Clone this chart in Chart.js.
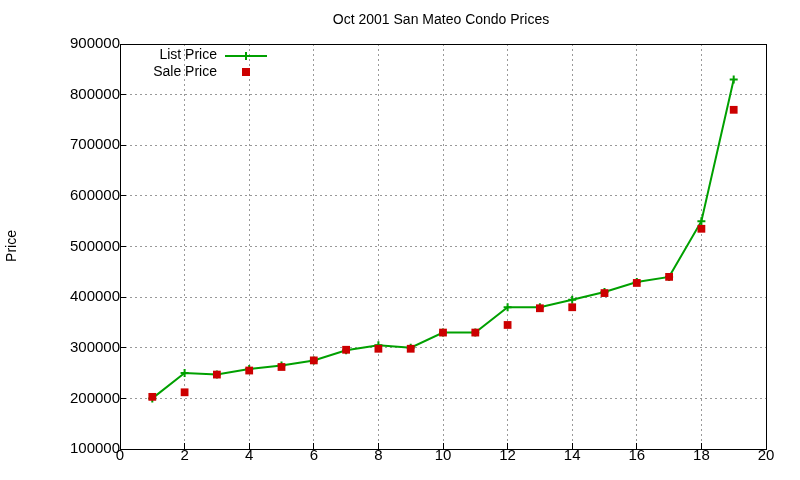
<!DOCTYPE html>
<html>
<head>
<script src="https://cdn.jsdelivr.net/npm/chart.js@4"></script>
<style>body{margin:0;background:#fff}#wrap{width:800px;height:480px}</style>
</head>
<body>
<div id="wrap"><canvas id="chart"></canvas></div>
<script>
const units = [1, 2, 3, 4, 5, 6, 7, 8, 9, 10, 11, 12, 13, 14, 15, 16, 17, 18, 19];
const listPrice = [200000, 250000, 247000, 258000, 265000, 275000, 295000, 305000, 300000, 330000,
  330000, 380000, 380000, 395000, 410000, 430000, 440000, 550000, 830000];
const salePrice = [203000, 212000, 247000, 255000, 262000, 275000, 296000, 298000, 298000, 330000,
  330000, 345000, 378000, 380000, 408000, 428000, 440000, 535000, 770000];

const fontFamily = "'Liberation Sans', Arial, sans-serif";

// gnuplot-like box, title, y label and legend
const gnuplotDecor = {
  id: "gnuplotDecor",
  afterDraw(chart) {
    const { ctx, chartArea: a } = chart;
    ctx.save();
    ctx.strokeStyle = "#000";
    ctx.lineWidth = 1;
    ctx.strokeRect(a.left + 0.5, a.top + 0.5, a.right - a.left, a.bottom - a.top);
    ctx.fillStyle = "#000";
    ctx.font = "14px " + fontFamily;
    ctx.textAlign = "center";
    ctx.textBaseline = "middle";
    ctx.fillText("Oct 2001 San Mateo Condo Prices", 441, 20);
    ctx.save();
    ctx.translate(12, 246);
    ctx.rotate(-Math.PI / 2);
    ctx.fillText("Price", 0, 0);
    ctx.restore();
    // legend
    ctx.textAlign = "right";
    ctx.fillText("List Price", 217, 55);
    ctx.fillText("Sale Price", 217, 72);
    ctx.strokeStyle = "#00a000";
    ctx.lineWidth = 2;
    ctx.beginPath();
    ctx.moveTo(225, 56); ctx.lineTo(267, 56);
    ctx.moveTo(246, 52); ctx.lineTo(246, 60);
    ctx.stroke();
    ctx.fillStyle = "#cc0000";
    ctx.fillRect(242, 68, 8, 8);
    ctx.restore();
  }
};

new Chart(document.getElementById("chart"), {
  type: "line",
  data: {
    datasets: [
      {
        label: "List Price",
        order: 2,
        data: units.map((u, i) => ({ x: u, y: listPrice[i] })),
        borderColor: "#00a000",
        borderWidth: 2,
        pointStyle: "cross",
        pointRadius: 4,
        pointBorderColor: "#00a000",
        pointBorderWidth: 2,
        tension: 0,
      },
      {
        label: "Sale Price",
        order: 1,
        data: units.map((u, i) => ({ x: u, y: salePrice[i] })),
        showLine: false,
        pointStyle: "rect",
        pointRadius: 5.5,
        pointBackgroundColor: "#cc0000",
        pointBorderColor: "#cc0000",
        pointBorderWidth: 0,
      },
    ],
  },
  options: {
    responsive: true,
    maintainAspectRatio: false,
    animation: false,
    layout: { padding: { top: 44, right: 34, left: 0, bottom: 0 } },
    plugins: { legend: { display: false }, tooltip: { enabled: false } },
    scales: {
      x: {
        type: "linear",
        min: 0,
        max: 20,
        ticks: { stepSize: 2, color: "#000", font: { size: 15, family: fontFamily }, padding: 4 },
        grid: { color: "#999", tickLength: -6, tickColor: "#000" },
        border: { dash: [2, 3], display: false },
        afterFit: (s) => { s.height = 31; },
      },
      y: {
        min: 100000,
        max: 900000,
        ticks: {
          stepSize: 100000, color: "#000", font: { size: 15, family: fontFamily }, padding: 6,
          callback: (v) => String(v),
        },
        grid: { color: "#999", tickLength: -6, tickColor: "#000" },
        border: { dash: [2, 3], display: false },
        afterFit: (s) => { s.width = 120; },
      },
    },
  },
  plugins: [gnuplotDecor],
});
</script>
</body>
</html>
